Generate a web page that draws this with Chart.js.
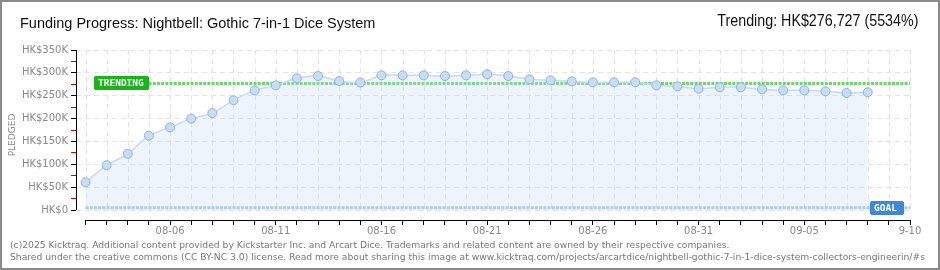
<!DOCTYPE html>
<html>
<head>
<meta charset="utf-8">
<title>Funding Progress</title>
<script src="https://cdn.jsdelivr.net/npm/chart.js@4.4.1/dist/chart.umd.min.js"></script>
<style>
  html, body { margin: 0; padding: 0; background: #fff; }
  #wrap { position: relative; width: 940px; height: 270px; overflow: hidden; }
  #frame { position: absolute; left: 0; top: 0; width: 940px; height: 270px; box-sizing: border-box; border: 2px solid #8a8a8a; pointer-events: none; }
  canvas { position: absolute; left: 0; top: 0; }
  .title { position: absolute; left: 20px; top: 16px; font: 14.5px "Liberation Sans"; line-height: 14px; color: #111; white-space: nowrap; }
  .trend { position: absolute; right: 22px; top: 12px; font: 17px "Liberation Sans"; line-height: 17px; color: #111; white-space: nowrap; transform: scaleX(0.84); transform-origin: right center; }
  .footer { position: absolute; left: 10px; top: 239px; font: 9.2px "DejaVu Sans"; line-height: 11.5px; color: #777; white-space: nowrap; }
</style>
</head>
<body>
<div id="wrap">
  <canvas id="chart" width="940" height="270"></canvas>
  <div class="title">Funding Progress: Nightbell: Gothic 7-in-1 Dice System</div>
  <div class="trend">Trending: HK$276,727 (5534%)</div>
  <div class="footer">(c)2025 Kicktraq. Additional content provided by Kickstarter Inc. and Arcart Dice. Trademarks and related content are owned by their respective companies.<br>Shared under the creative commons (CC BY-NC 3.0) license. Read more about sharing this image at www.kicktraq.com/projects/arcartdice/nightbell-gothic-7-in-1-dice-system-collectors-engineerin/#s</div>
  <div id="frame"></div>
</div>
<script>
// daily pledged totals (HK$), 08-02 .. 09-08
const dayLabels = [
  '08-02','08-03','08-04','08-05','08-06','08-07','08-08','08-09','08-10','08-11',
  '08-12','08-13','08-14','08-15','08-16','08-17','08-18','08-19','08-20','08-21',
  '08-22','08-23','08-24','08-25','08-26','08-27','08-28','08-29','08-30','08-31',
  '09-01','09-02','09-03','09-04','09-05','09-06','09-07','09-08'
];
const pledged = [
  60600, 97800, 123000, 162600, 180800, 199800, 212000, 240000, 261700, 272600,
  288000, 293000, 282000, 279000, 294600, 294600, 294600, 293000, 294600, 296800,
  293000, 285900, 283700, 281500, 279300, 279300, 279300, 272700, 270500, 265400,
  268400, 268400, 264000, 261800, 261800, 259600, 256000, 257400
];
const xTickLabels = ['08-06', '08-11', '08-16', '08-21', '08-26', '08-31', '09-05', '9-10'];
const yTickLabels = ['HK$0', 'HK$50K', 'HK$100K', 'HK$150K', 'HK$200K', 'HK$250K', 'HK$300K', 'HK$350K'];
const lastDay = 39; // 09-10
const trending = 276727;
const goal = 5000;

const axesPlugin = {
  id: 'axes',
  beforeDatasetsDraw(chart) {
    const { ctx, chartArea } = chart;
    const x = chart.scales.x, y = chart.scales.y;
    const yTop = y.getPixelForValue(350000);
    const yZero = y.getPixelForValue(0);
    ctx.save();
    // vertical dashed grid, one per day
    ctx.strokeStyle = '#e3e3e3';
    ctx.lineWidth = 1;
    ctx.setLineDash([5, 4]);
    for (let i = 0; i <= lastDay; i++) {
      const px = Math.round(x.getPixelForValue(i)) + 0.5;
      ctx.beginPath();
      ctx.moveTo(px, yTop);
      ctx.lineTo(px, yZero);
      ctx.stroke();
    }
    ctx.setLineDash([]);
    ctx.strokeStyle = '#000';
    // y axis line
    const ax = Math.round(chartArea.left) + 0.5;
    ctx.beginPath();
    ctx.moveTo(ax, yTop);
    ctx.lineTo(ax, yZero);
    ctx.stroke();
    // x axis line
    const ay = Math.round(chartArea.bottom) + 0.5;
    ctx.beginPath();
    ctx.moveTo(x.getPixelForValue(0), ay);
    ctx.lineTo(x.getPixelForValue(lastDay), ay);
    ctx.stroke();
    ctx.restore();
  },
  afterDatasetsDraw(chart) {
    const { ctx } = chart;
    const x = chart.scales.x, y = chart.scales.y;
    const tag = (text, left, cy, w, color) => {
      const top = Math.round(cy) - 7;
      left = Math.round(left);
      ctx.fillStyle = color;
      ctx.fillRect(left + 1, top, w - 2, 14);
      ctx.fillRect(left, top + 1, w, 12);
      ctx.fillStyle = '#fff';
      ctx.font = 'bold 9.5px "DejaVu Sans Mono"';
      ctx.textBaseline = 'middle';
      ctx.textAlign = 'left';
      ctx.fillText(text, left + 4, top + 7.5);
    };
    ctx.save();
    tag('TRENDING', x.getPixelForValue(0.4), y.getPixelForValue(trending), 55, '#18b418');
    tag('GOAL', x.getPixelForValue(lastDay) - 40, y.getPixelForValue(goal), 34, '#3d88d8');
    ctx.restore();
  }
};

const tickFont = { family: 'DejaVu Sans', size: 10 };

new Chart(document.getElementById('chart').getContext('2d'), {
  type: 'line',
  data: {
    datasets: [
      {
        label: 'Pledged',
        data: pledged.map((v, i) => ({ x: i, y: v })),
        borderColor: '#c3dcf4',
        borderWidth: 1.5,
        backgroundColor: 'rgba(190,217,246,0.28)',
        fill: 'origin',
        tension: 0.3,
        pointRadius: 4.5,
        pointBackgroundColor: '#c6ddf6',
        pointBorderColor: '#93b2d2',
        pointBorderWidth: 1
      },
      {
        label: 'Trending',
        data: [{ x: 0.4, y: trending }, { x: lastDay, y: trending }],
        borderColor: '#6fd36f',
        borderWidth: 3,
        borderDash: [3, 1.2],
        pointRadius: 0,
        fill: false
      },
      {
        label: 'Goal',
        data: [{ x: 0, y: goal }, { x: lastDay, y: goal }],
        borderColor: '#a2c8ef',
        borderWidth: 3,
        borderDash: [3, 1.2],
        pointRadius: 0,
        fill: false
      }
    ]
  },
  options: {
    responsive: false,
    animation: false,
    layout: { padding: { top: 50, right: 30, left: 0, bottom: 0 } },
    plugins: { legend: { display: false }, tooltip: { enabled: false } },
    scales: {
      x: {
        type: 'linear',
        min: -0.45,
        max: lastDay,
        afterFit: (s) => { s.height = 50; },
        afterBuildTicks: (s) => {
          const t = [];
          for (let i = 0; i <= lastDay; i++) t.push({ value: i });
          s.ticks = t;
        },
        border: { display: false },
        grid: { drawOnChartArea: false, drawTicks: true, tickLength: 5, tickColor: '#000' },
        ticks: {
          autoSkip: false,
          maxRotation: 0,
          padding: 0,
          color: '#888',
          font: tickFont,
          callback: (v) => ((v - 4) % 5 === 0 ? xTickLabels[(v - 4) / 5] : '')
        }
      },
      y: {
        min: -21875,
        max: 350000,
        afterFit: (s) => { s.width = 76; },
        afterBuildTicks: (s) => {
          const t = [];
          for (let v = 0; v <= 350000; v += 25000) t.push({ value: v });
          s.ticks = t;
        },
        border: { display: false, dash: [5, 4] },
        grid: {
          color: (c) => (c.tick && c.tick.value % 50000 === 0 ? '#e3e3e3' : 'rgba(0,0,0,0)'),
          tickColor: (c) => (c.tick && c.tick.value % 50000 === 0 ? '#000' : '#e00000'),
          tickLength: 5
        },
        ticks: {
          autoSkip: false,
          padding: 3,
          color: '#888',
          font: tickFont,
          callback: (v) => (v % 50000 === 0 ? yTickLabels[v / 50000] : '')
        },
        title: {
          display: true,
          text: 'PLEDGED',
          color: '#888',
          font: { family: 'DejaVu Sans', size: 9 },
          padding: { top: 7, bottom: 0 }
        }
      }
    }
  },
  plugins: [axesPlugin]
});
</script>
</body>
</html>
